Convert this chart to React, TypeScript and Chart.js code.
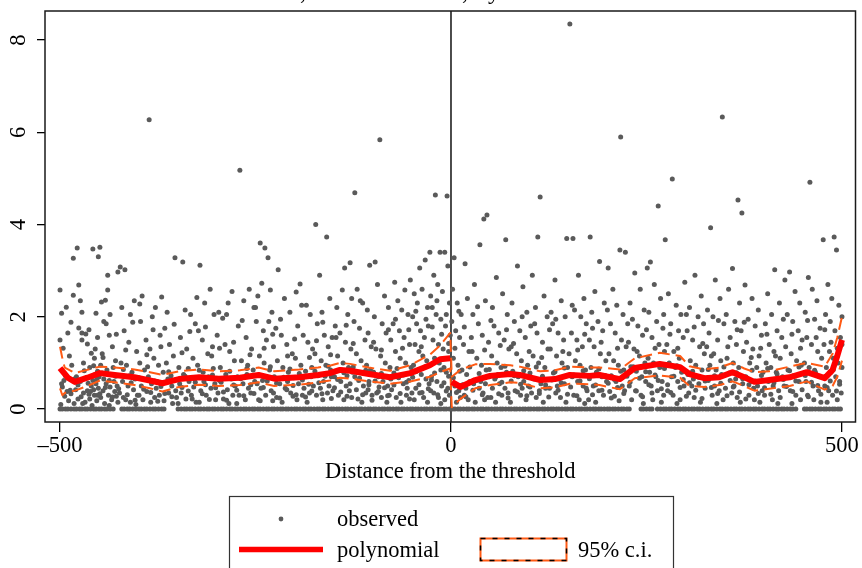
import React, { useEffect, useRef } from "react";
import { Chart, registerables } from "chart.js";

Chart.register(...registerables);

const FONT = '"Liberation Serif", "Times New Roman", serif';

const xTicks = [-500, 0, 500];
const yTicks = [0, 2, 4, 6, 8];
const xTitle = "Distance from the threshold";
const legendLabels = ["observed", "polynomial", "95% c.i."];
const titleParts = ["Mean outcome,", "all bins,", "by distance"];

// observed points above zero: [distance, value]
const observed: [number, number][] = [
  [-500,2.58],[-498,2.08],[-492,2.21],[-483,2.47],[-476,2.69],[-478,3.49],[-483,3.27],[-500,1.5],[-490,1.65],[-476,1.76],[-497,0.48],[-494,0.28],[-489,0.18],[-486,0.33],[-482,0.12],[-480,0.42],[-477,0.22],[-495,0.62],[-485,0.95],[-479,0.7],[-499,0.1],[-491,0.38],[-488,1.15],
  [-472,2.1],[-454,2.08],[-458,3.47],[-449,3.51],[-451,3.3],[-472,1.65],[-467,1.63],[-472,1.5],[-465,1.41],[-460,1.21],[-455,1.3],[-456,1.1],[-470,1.0],[-462,0.9],[-470,0.35],[-465,0.4],[-460,0.5],[-458,0.62],[-455,0.75],[-452,0.82],[-468,0.15],[-462,0.22],[-456,0.3],[-451,0.45],[-474,0.6],[-466,0.68],[-454,0.55],[-459,0.08],[-453,0.18],[-463,0.32],[-457,0.42],[-471,0.12],[-450,0.7],[-452,0.3],
  [-442,2.36],[-439,2.58],[-439,2.9],[-447,2.32],[-426,2.97],[-444,1.9],[-441,1.85],[-437,1.6],[-433,1.35],[-429,1.05],[-446,1.2],[-448,0.95],[-440,0.85],[-435,0.75],[-431,0.6],[-427,0.5],[-445,0.4],[-441,0.55],[-438,0.3],[-434,0.2],[-430,0.38],[-426,0.15],[-448,0.25],[-443,0.12],[-436,0.48],[-432,0.9],[-428,0.28],[-444,0.65],[-437,0.08],
  [-423,3.08],[-417,3.02],[-421,2.2],[-410,2.05],[-405,2.35],[-418,1.7],[-412,1.45],[-402,1.25],[-422,1.0],[-415,0.95],[-408,0.8],[-420,0.6],[-413,0.5],[-406,0.42],[-401,0.3],[-424,0.35],[-416,0.2],[-410,0.15],[-404,0.65],[-419,0.25],[-411,0.72],[-403,0.1],
  [-386,6.27],[-395,2.45],[-382,2.0],[-378,2.2],[-397,1.9],[-390,1.5],[-385,1.3],[-380,1.1],[-398,1.0],[-392,0.85],[-387,0.7],[-383,0.55],[-377,0.45],[-399,0.3],[-394,0.2],[-389,0.38],[-384,0.15],[-379,0.25],[-376,0.6],[-396,0.5],
  [-370,2.43],[-353,3.28],[-372,1.6],[-366,1.75],[-360,1.4],[-355,1.15],[-374,0.95],[-368,0.8],[-362,0.65],[-357,0.5],[-352,0.4],[-373,0.3],[-367,0.18],[-361,0.35],[-356,0.12],[-351,0.25],[-364,1.0],[-358,0.72],
  [-343,3.19],[-340,2.15],[-333,2.05],[-327,1.85],[-346,1.55],[-338,1.3],[-330,1.1],[-348,0.9],[-342,0.75],[-335,0.6],[-329,0.48],[-345,0.35],[-339,0.22],[-332,0.3],[-326,0.15],[-347,0.55],[-336,0.88],[-328,0.65],
  [-321,3.12],[-315,2.3],[-308,2.6],[-303,2.05],[-323,1.7],[-318,1.5],[-311,1.2],[-305,1.35],[-324,0.95],[-317,0.8],[-310,0.7],[-302,0.55],[-320,0.4],[-313,0.3],[-307,0.45],[-301,0.2],[-322,0.15],[-316,0.6],[-304,0.88],
  [-297,2.1],[-292,1.97],[-285,2.3],[-280,2.55],[-299,1.6],[-289,1.4],[-283,1.25],[-277,1.05],[-295,0.9],[-288,0.75],[-281,0.65],[-276,0.5],[-298,0.35],[-291,0.22],[-286,0.42],[-279,0.3],[-294,0.58],[-284,0.12],
  [-270,5.18],[-265,2.35],[-258,2.6],[-252,2.2],[-272,1.8],[-262,1.55],[-255,1.3],[-268,1.05],[-260,0.95],[-253,0.85],[-273,0.7],[-266,0.55],[-259,0.45],[-251,0.6],[-271,0.3],[-263,0.2],[-256,0.35],[-274,0.12],[-261,0.75],
  [-244,3.6],[-238,3.49],[-234,3.28],[-242,2.73],[-231,2.58],[-247,2.45],[-229,2.1],[-249,1.9],[-240,1.7],[-236,1.5],[-233,1.9],[-227,1.35],[-245,1.15],[-239,1.0],[-232,0.85],[-226,0.7],[-248,0.55],[-243,0.45],[-237,0.3],[-230,0.4],[-246,0.2],[-241,0.62],[-228,0.18],
  [-221,3.02],[-213,2.4],[-206,2.1],[-224,1.75],[-217,1.6],[-210,1.4],[-203,1.2],[-222,1.05],[-215,0.9],[-208,0.8],[-201,0.68],[-219,0.55],[-212,0.45],[-205,0.35],[-223,0.25],[-216,0.15],[-209,0.6],[-202,0.28],
  [-193,2.71],[-198,2.54],[-185,2.25],[-180,2.05],[-196,1.8],[-189,1.6],[-183,1.45],[-177,1.3],[-199,1.1],[-192,0.95],[-186,0.82],[-179,0.7],[-195,0.55],[-188,0.45],[-181,0.35],[-176,0.5],[-197,0.2],[-190,0.3],[-184,0.15],[-178,0.9],
  [-173,4.0],[-159,3.73],[-168,2.9],[-155,2.4],[-165,2.1],[-171,1.85],[-162,1.6],[-157,1.35],[-152,1.55],[-174,1.2],[-166,1.05],[-160,0.95],[-154,0.85],[-170,0.72],[-163,0.6],[-156,0.5],[-151,0.4],[-172,0.3],[-164,0.2],[-158,0.35],[-153,0.7],[-167,0.45],
  [-136,3.06],[-129,3.17],[-139,2.58],[-123,4.69],[-146,2.2],[-132,2.05],[-127,2.4],[-148,1.8],[-142,1.65],[-135,1.45],[-128,1.3],[-145,1.15],[-138,1.0],[-131,0.9],[-126,0.8],[-149,0.7],[-141,0.6],[-134,0.5],[-130,0.4],[-144,0.3],[-137,0.2],[-127,0.25],[-140,0.85],[-133,0.72],
  [-104,3.12],[-120,2.6],[-113,2.3],[-107,2.15],[-124,1.9],[-117,1.75],[-110,1.5],[-102,1.35],[-121,1.2],[-115,1.05],[-108,0.95],[-103,0.85],[-123,0.7],[-118,0.62],[-112,0.5],[-106,0.42],[-101,0.3],[-119,0.22],[-114,0.15],[-109,0.35],[-105,0.6],
  [-97,3.19],[-91,5.84],[-94,2.7],[-85,2.45],[-80,2.2],[-98,2.0],[-88,1.85],[-83,1.65],[-77,1.5],[-96,1.3],[-90,1.15],[-84,1.0],[-78,0.9],[-99,0.8],[-93,0.7],[-87,0.6],[-81,0.5],[-76,0.42],[-95,0.35],[-89,0.25],[-82,0.15],[-79,0.3],[-92,0.48],
  [-72,2.75],[-59,2.58],[-52,2.8],[-68,2.35],[-63,2.15],[-55,2.05],[-74,1.85],[-66,1.7],[-60,1.55],[-53,1.4],[-71,1.25],[-65,1.1],[-58,1.0],[-51,0.9],[-73,0.78],[-67,0.68],[-61,0.55],[-56,0.45],[-50,0.35],[-70,0.25],[-64,0.15],[-57,0.3],[-54,0.62],
  [-40,3.06],[-33,3.23],[-27,3.4],[-47,2.5],[-43,2.3],[-37,2.6],[-30,2.2],[-26,2.45],[-49,2.0],[-44,1.85],[-39,1.7],[-34,1.55],[-29,1.8],[-46,1.4],[-41,1.25],[-36,1.15],[-31,1.05],[-48,0.95],[-42,0.85],[-38,0.75],[-32,0.65],[-28,0.55],[-45,0.45],[-40,0.35],[-35,0.25],[-30,0.15],[-26,0.4],[-47,0.2],
  [-20,4.64],[-5,4.62],[-14,3.4],[-8,3.4],[-22,2.9],[-17,2.7],[-11,2.55],[-4,3.1],[-2,2.3],[-24,2.2],[-19,2.05],[-13,1.95],[-7,1.8],[-1,1.6],[-23,1.5],[-16,1.4],[-10,1.3],[-3,1.25],[-21,1.1],[-15,1.0],[-9,0.9],[-6,0.8],[-25,0.7],[-18,0.6],[-12,0.5],[-4,0.45],[-22,0.35],[-16,0.25],[-8,0.2],[-2,0.3],[-13,0.12],
  [4,3.28],[18,3.15],[2,2.6],[8,2.3],[13,2.05],[21,2.4],[1,1.9],[6,1.7],[11,1.55],[16,1.4],[23,1.25],[3,1.1],[9,0.95],[14,0.85],[20,0.75],[24,0.6],[5,0.5],[10,0.4],[17,0.3],[22,0.2],[7,0.15],[12,0.25],[19,0.45],
  [42,4.12],[46,4.21],[37,3.56],[30,2.7],[44,2.35],[28,2.05],[35,1.85],[40,1.6],[48,1.45],[27,1.25],[33,1.1],[39,0.95],[45,0.85],[49,0.7],[29,0.55],[36,0.45],[41,0.35],[47,0.25],[31,0.15],[38,0.6],[43,0.2],
  [70,3.67],[58,2.85],[66,2.5],[53,2.2],[72,2.05],[55,1.8],[61,1.65],[68,1.5],[74,1.3],[52,1.15],[59,1.0],[64,0.9],[71,0.8],[56,0.65],[62,0.55],[69,0.45],[73,0.35],[51,0.25],[57,0.15],[65,0.3],[60,0.75],
  [85,3.1],[92,2.65],[78,2.3],[97,2.1],[81,1.9],[88,1.7],[95,1.55],[77,1.35],[84,1.2],[90,1.05],[98,0.95],[79,0.82],[86,0.7],[93,0.6],[99,0.5],[82,0.4],[89,0.3],[96,0.2],[76,0.15],[91,0.45],
  [114,4.6],[111,3.73],[104,2.9],[119,2.45],[108,2.2],[123,2.0],[102,1.8],[110,1.65],[117,1.45],[124,1.3],[105,1.15],[112,1.0],[120,0.9],[101,0.78],[107,0.65],[115,0.55],[121,0.45],[103,0.35],[109,0.25],[118,0.15],[113,0.4],
  [148,3.7],[133,2.8],[141,2.35],[128,2.1],[146,2.0],[130,1.85],[137,1.65],[144,1.5],[127,1.3],[135,1.15],[142,1.0],[149,0.9],[131,0.78],[138,0.65],[145,0.55],[126,0.45],[134,0.35],[140,0.25],[147,0.15],[136,0.5],
  [152,8.35],[156,3.7],[163,2.9],[170,2.4],[158,2.15],[166,2.0],[173,1.85],[154,1.65],[161,1.5],[168,1.35],[151,1.2],[159,1.05],[165,0.95],[172,0.85],[155,0.7],[162,0.6],[169,0.5],[174,0.4],[157,0.3],[164,0.2],[171,0.12],
  [178,3.73],[190,3.2],[184,2.55],[196,2.3],[180,2.1],[188,1.9],[194,1.7],[177,1.5],[183,1.35],[191,1.2],[198,1.05],[179,0.9],[186,0.8],[193,0.7],[199,0.6],[182,0.5],[189,0.4],[195,0.3],[176,0.2],[185,0.15],
  [201,3.06],[216,3.45],[223,3.4],[217,5.9],[207,2.6],[212,2.25],[220,2.05],[204,1.85],[210,1.65],[218,1.5],[224,1.35],[202,1.2],[208,1.05],[214,0.95],[221,0.85],[205,0.72],[211,0.6],[219,0.5],[203,0.38],[209,0.28],[215,0.18],[222,0.4],
  [235,2.95],[242,2.6],[229,2.3],[247,2.15],[232,1.95],[239,1.8],[245,1.6],[227,1.45],[234,1.3],[241,1.15],[248,1.0],[230,0.92],[237,0.82],[244,0.7],[249,0.6],[228,0.5],[236,0.4],[243,0.3],[231,0.2],[246,0.12],
  [251,3.06],[255,3.19],[265,4.4],[274,3.67],[260,2.7],[268,2.4],[253,2.1],[263,1.9],[271,1.75],[257,1.55],[266,1.4],[273,1.25],[252,1.1],[259,1.0],[267,0.9],[254,0.8],[262,0.7],[270,0.6],[256,0.5],[264,0.4],[272,0.3],[258,0.2],[269,0.15],
  [283,4.99],[299,2.75],[278,2.5],[288,2.25],[294,2.05],[281,1.85],[291,1.7],[297,1.55],[276,1.4],[285,1.25],[292,1.1],[279,1.0],[287,0.9],[295,0.8],[282,0.7],[290,0.6],[298,0.5],[277,0.4],[284,0.3],[293,0.2],[289,0.12],
  [312,2.9],[320,2.45],[305,2.2],[316,2.0],[323,1.85],[302,1.7],[309,1.5],[318,1.35],[324,1.2],[306,1.05],[313,0.95],[321,0.85],[303,0.75],[310,0.65],[317,0.55],[325,0.45],[304,0.35],[311,0.25],[319,0.15],[308,0.5],
  [332,3.93],[347,6.33],[338,2.8],[344,2.4],[328,2.15],[335,2.0],[349,1.85],[330,1.65],[341,1.5],[327,1.35],[336,1.2],[345,1.05],[331,0.95],[339,0.85],[346,0.75],[329,0.62],[337,0.5],[343,0.4],[334,0.3],[348,0.2],[340,0.12],
  [367,4.53],[372,4.25],[360,3.05],[355,2.6],[369,2.3],[352,2.05],[363,1.9],[371,1.7],[357,1.55],[365,1.4],[374,1.25],[353,1.1],[361,1.0],[368,0.9],[356,0.78],[364,0.65],[373,0.55],[351,0.45],[359,0.35],[366,0.25],[370,0.15],[362,0.5],
  [376,2.69],[385,2.4],[393,2.15],[380,1.95],[389,1.8],[397,1.6],[378,1.45],[386,1.3],[394,1.15],[382,1.0],[391,0.9],[399,0.8],[377,0.7],[384,0.6],[392,0.5],[398,0.4],[381,0.3],[388,0.2],[395,0.15],[387,0.45],
  [414,3.02],[405,2.5],[420,2.3],[410,2.05],[402,1.85],[417,1.7],[423,1.55],[407,1.4],[413,1.25],[421,1.1],[403,1.0],[409,0.9],[416,0.8],[424,0.7],[406,0.6],[412,0.5],[419,0.4],[401,0.3],[411,0.2],[418,0.12],
  [427,2.8],[433,2.97],[440,2.55],[446,2.3],[430,2.05],[437,1.9],[444,1.7],[449,1.5],[428,1.35],[435,1.2],[442,1.05],[448,0.95],[431,0.85],[438,0.72],[445,0.6],[426,0.5],[434,0.4],[441,0.3],[447,0.2],[436,0.12],
  [459,4.92],[457,2.85],[462,2.6],[468,2.35],[453,2.1],[465,1.95],[472,1.75],[455,1.55],[461,1.4],[469,1.25],[474,1.1],[452,1.0],[458,0.9],[466,0.8],[471,0.7],[454,0.6],[463,0.5],[470,0.4],[456,0.3],[464,0.2],[473,0.15],
  [476,3.67],[490,3.73],[493,3.45],[482,2.7],[487,2.4],[496,2.25],[479,2.05],[485,1.9],[491,1.7],[498,1.55],[477,1.4],[484,1.25],[489,1.1],[495,1.0],[500,2.0],[480,0.9],[486,0.8],[492,0.7],[497,0.6],[478,0.5],[483,0.4],[488,0.3],[494,0.2],[499,0.35],[481,0.15],[500,0.9],[500,1.4],
];

// more observed points in the dense low band
const observedLow: [number, number][] = [
  [-498,0.55],[-493,0.72],[-487,0.41],[-481,0.66],[-477,0.52],[-473,0.27],[-469,0.83],[-464,0.56],[-461,0.38],[-457,0.94],[-453,0.64],[-449,0.33],[-446,0.78],[-442,0.47],[-437,0.62],[-433,0.26],[-429,0.71],[-425,0.44],[-419,0.86],[-414,0.31],[-409,0.57],[-404,0.19],[-399,0.68],[-393,0.43],[-388,0.92],[-384,0.36],[-379,0.61],[-375,0.17],[-371,0.49],[-366,0.34],[-361,0.81],[-357,0.27],[-353,0.63],[-349,0.12],[-344,0.47],[-340,0.71],[-336,0.39],[-331,0.22],[-327,0.58],[-322,0.84],[-318,0.33],[-314,0.53],[-309,0.21],[-305,0.74],[-301,0.46],[-296,0.62],[-291,0.37],[-287,0.19],[-283,0.82],[-278,0.52],[-274,0.41],[-269,0.66],[-265,0.29],[-261,0.88],[-256,0.53],[-252,0.34],[-248,0.73],[-244,0.18],[-240,0.47],[-235,0.61],[-231,0.92],[-227,0.35],[-223,0.56],[-219,0.24],[-214,0.69],[-210,0.42],[-206,0.87],[-202,0.51],[-198,0.31],[-194,0.77],[-190,0.63],[-186,0.26],[-182,0.54],[-178,0.39],[-174,0.82],[-169,0.57],[-165,0.33],[-161,0.71],[-157,0.93],[-153,0.23],[-149,0.46],[-145,0.64],[-141,0.37],[-137,0.79],[-133,0.28],[-129,0.55],[-125,0.91],[-121,0.42],[-117,0.67],[-113,0.31],[-109,0.84],[-105,0.53],[-101,0.19],[-97,0.61],[-93,0.38],[-89,0.77],[-85,0.46],[-81,0.29],[-77,0.65],[-73,0.52],[-69,0.88],[-65,0.34],[-61,0.74],[-57,0.58],[-53,0.22],[-49,0.69],[-45,0.81],[-41,0.53],[-37,0.36],[-33,0.92],[-29,0.44],[-25,0.63],[-21,0.78],[-17,0.31],[-13,0.85],[-9,0.57],[-6,0.39],[-3,0.71],
  [3,0.68],[7,0.36],[11,0.82],[15,0.53],[19,0.27],[24,0.91],[28,0.41],[32,0.62],[36,0.77],[40,0.31],[44,0.55],[49,0.86],[53,0.45],[57,0.69],[61,0.33],[65,0.58],[69,0.93],[73,0.24],[77,0.61],[81,0.72],[85,0.37],[89,0.54],[93,0.83],[97,0.29],[101,0.48],[105,0.66],[109,0.91],[113,0.34],[117,0.71],[121,0.52],[125,0.26],[129,0.63],[133,0.81],[137,0.41],[141,0.57],[145,0.89],[149,0.32],[153,0.48],[157,0.74],[161,0.29],[165,0.61],[169,0.83],[173,0.45],[177,0.66],[181,0.31],[185,0.52],[189,0.87],[193,0.41],[197,0.73],[201,0.56],[205,0.24],[209,0.64],[213,0.47],[217,0.82],[221,0.34],[225,0.71],[229,0.58],[233,0.92],[237,0.39],[241,0.67],[245,0.27],[249,0.81],[253,0.53],[257,0.35],[261,0.74],[265,0.62],[269,0.44],[273,0.88],[277,0.53],[281,0.36],[285,0.71],[289,0.94],[293,0.47],[297,0.64],[301,0.28],[305,0.57],[309,0.82],[313,0.41],[317,0.69],[321,0.23],[325,0.61],[329,0.86],[333,0.47],[337,0.72],[341,0.34],[345,0.56],[349,0.91],[353,0.29],[357,0.62],[361,0.48],[365,0.79],[369,0.37],[373,0.66],[377,0.22],[381,0.53],[385,0.84],[389,0.61],[393,0.34],[397,0.73],[401,0.46],[405,0.88],[409,0.32],[413,0.57],[417,0.76],[421,0.25],[425,0.64],[429,0.49],[433,0.83],[437,0.38],[441,0.61],[445,0.91],[449,0.42],[453,0.73],[457,0.27],[461,0.58],[465,0.84],[469,0.51],[473,0.32],[477,0.69],[481,0.47],[485,0.61],[489,0.86],[493,0.39],[497,0.54],
];

// more observed points in the middle band
const observedMid: [number, number][] = [
  [-496,1.32],[-486,1.88],[-474,2.35],[-463,1.72],[-452,1.55],[-445,1.12],[-436,2.05],[-428,1.62],[-416,1.28],[-407,1.88],[-398,2.28],[-389,1.18],[-381,1.72],[-371,1.35],[-363,2.1],[-354,1.84],[-344,1.22],[-334,1.68],[-325,2.42],[-314,1.78],[-306,1.15],[-296,1.32],[-287,2.05],[-278,1.45],[-267,1.92],[-257,1.18],[-250,2.2],[-239,1.32],[-228,1.62],[-218,1.95],[-209,1.15],[-200,1.52],[-191,2.25],[-181,1.12],[-172,1.48],[-164,1.88],[-154,1.18],[-147,1.55],[-134,1.82],[-125,1.42],[-116,2.35],[-106,1.65],[-99,1.45],[-89,1.28],[-80,1.72],[-71,1.95],[-62,1.32],[-54,1.72],[-45,2.12],[-38,1.35],[-32,1.95],[-24,1.78],[-18,2.35],[-12,1.62],[-6,2.05],[-3,1.42],
  [5,1.32],[10,2.12],[17,1.78],[26,1.55],[34,2.22],[43,1.28],[51,1.92],[63,1.38],[71,1.72],[80,1.42],[91,2.0],[100,1.25],[107,1.85],[116,1.12],[126,1.72],[134,1.95],[143,1.25],[155,2.25],[162,1.28],[171,1.62],[181,1.75],[192,1.45],[200,2.15],[213,1.32],[226,1.85],[238,1.25],[250,1.72],[261,1.32],[272,2.05],[280,1.62],[290,1.32],[301,2.05],[311,1.78],[322,1.42],[333,1.15],[342,1.92],[354,1.35],[366,1.72],[375,1.88],[384,1.12],[396,1.32],[404,1.62],[415,1.15],[425,1.95],[436,1.62],[447,1.32],[456,1.92],[467,1.55],[478,1.72],[486,1.45],[494,1.32],
];

// observed points lying at zero: distance only
const zeroRowX: number[] = [
  -500,-497,-493,-490,-486,-482,-479,-475,-472,-468,-465,-461,-457,-454,-450,-447,-443,-440,-436,-432,-421,-418,-414,-411,-407,-403,-399,-396,-392,-389,-385,-381,-378,-374,-370,-367,-349,-345,-341,-338,-334,-331,-327,-323,-320,-316,-312,-309,-305,-302,-298,-294,-291,-287,-283,-280,-276,-273,-269,-265,-262,-258,-254,-251,-247,-244,-240,-236,-233,-229,-226,-222,-218,-215,-211,-208,-204,-200,-197,-193,-189,-186,-182,-179,-175,-171,-168,-164,-161,-157,-153,-150,-146,-143,-139,-135,-132,-128,-124,-121,-117,-114,-110,-106,-103,-99,-96,-92,-88,-85,-81,-78,-74,-70,-67,-63,-60,-56,-52,-49,-45,-42,-38,-34,-31,-27,-24,-20,-16,-13,-9,-6,-2,
  2,5,9,12,16,20,23,27,30,34,38,41,45,48,52,56,59,63,66,70,74,77,81,84,88,92,95,99,102,106,110,113,117,120,124,128,131,135,138,142,146,149,153,156,160,164,167,171,174,178,182,185,189,192,196,200,203,207,210,214,218,221,225,228,243,246,250,254,257,264,268,272,275,279,282,286,290,293,297,300,304,308,311,315,318,322,326,329,333,336,340,344,347,351,354,358,362,365,369,372,376,380,383,387,390,394,398,401,405,408,412,416,419,423,426,430,434,437,441,452,455,459,462,466,470,473,477,480,484,488,491,495,498,
];

// local polynomial fit, left and right of the threshold
const polyLeftX = [-500,-490,-481,-465,-449,-430,-405,-385,-369,-348,-322,-297,-270,-246,-226,-194,-170,-155,-142,-129,-105,-78,-52,-27,-14,-1];
const polyLeftY = [0.89,0.68,0.59,0.68,0.78,0.74,0.69,0.62,0.56,0.65,0.69,0.66,0.68,0.74,0.66,0.69,0.74,0.78,0.85,0.83,0.76,0.69,0.78,0.95,1.08,1.1];
const polyRightX = [1,12,31,50,76,88,114,133,152,177,190,216,235,267,293,305,324,343,360,375,388,407,433,455,478,488,494,500];
const polyRightY = [0.59,0.48,0.63,0.72,0.76,0.74,0.63,0.65,0.74,0.72,0.74,0.65,0.89,0.98,0.91,0.76,0.67,0.69,0.8,0.69,0.59,0.63,0.69,0.8,0.67,0.85,1.15,1.5];

// 95% confidence band
const ciLeftX = [-500,-497,-494,-481,-465,-449,-430,-405,-385,-369,-348,-322,-297,-270,-246,-226,-194,-170,-155,-142,-129,-105,-78,-52,-27,-14,-1];
const ciLeftUpper = [1.35,1.1,0.9,0.78,0.85,0.92,0.9,0.86,0.8,0.74,0.82,0.86,0.82,0.84,0.9,0.82,0.86,0.9,0.94,1.0,0.98,0.9,0.83,0.95,1.18,1.38,1.65];
const ciLeftLower = [0.45,0.3,0.35,0.4,0.5,0.62,0.58,0.52,0.45,0.38,0.48,0.53,0.5,0.52,0.58,0.5,0.53,0.58,0.62,0.68,0.66,0.6,0.55,0.6,0.7,0.8,0.88];
const ciRightX = [1,12,31,50,76,88,114,133,152,177,190,216,235,267,293,305,324,343,360,375,388,407,433,455,478,488,494,500];
const ciRightUpper = [0.7,0.85,0.97,0.98,0.95,0.92,0.82,0.84,0.92,0.9,0.9,0.86,1.1,1.22,1.15,0.93,0.86,0.9,1.0,0.88,0.8,0.82,0.92,1.0,0.92,1.2,1.55,2.0];
const ciRightLower = [0.04,0.22,0.45,0.52,0.58,0.57,0.45,0.47,0.55,0.54,0.52,0.43,0.67,0.73,0.68,0.5,0.48,0.52,0.6,0.5,0.4,0.44,0.5,0.6,0.42,0.5,0.7,1.05];

const GRAY = "#5a5a5a";
const RED = "#ff0000";
const ORANGE = "#ff5a14";

const decorPlugin = {
  id: "decor",
  beforeDatasetsDraw(chart: any) {
    const { ctx, chartArea: a, scales } = chart;
    const x0 = scales.x.getPixelForValue(0);
    ctx.save();
    ctx.strokeStyle = "#000";
    ctx.lineWidth = 1.4;
    ctx.beginPath();
    ctx.moveTo(x0, a.top);
    ctx.lineTo(x0, a.bottom);
    ctx.stroke();
    ctx.restore();
  },
  afterDraw(chart: any) {
    const { ctx, chartArea: a, scales } = chart;
    ctx.save();
    ctx.strokeStyle = "#1a1a1a";
    ctx.lineWidth = 1.5;
    ctx.strokeRect(a.left, a.top, a.right - a.left, a.bottom - a.top);

    ctx.fillStyle = "#000";
    ctx.font = `22.5px ${FONT}`;
    ctx.textAlign = "center";
    ctx.textBaseline = "alphabetic";
    xTicks.forEach((v) => {
      const lbl = v < 0 ? "\u2013" + Math.abs(v) : String(v);
      ctx.fillText(lbl, scales.x.getPixelForValue(v), 452);
    });
    yTicks.forEach((v) => {
      ctx.save();
      ctx.translate(25, scales.y.getPixelForValue(v));
      ctx.rotate(-Math.PI / 2);
      ctx.fillText(String(v), 0, 0);
      ctx.restore();
    });
    ctx.fillText(xTitle, (a.left + a.right) / 2, 478);

    ctx.font = `24px ${FONT}`;
    ctx.textAlign = "right";
    ctx.fillText(titleParts[0], 306, -1);
    ctx.fillText(titleParts[1], 468, -1);
    ctx.textAlign = "left";
    ctx.fillText(titleParts[2], 476, -1);

    ctx.font = `22.5px ${FONT}`;
    ctx.strokeStyle = "#333";
    ctx.lineWidth = 1.2;
    ctx.strokeRect(229.5, 496.5, 444, 120);
    ctx.fillStyle = GRAY;
    ctx.beginPath();
    ctx.arc(281, 519, 2.4, 0, Math.PI * 2);
    ctx.fill();
    ctx.fillStyle = "#000";
    ctx.textAlign = "left";
    ctx.fillText(legendLabels[0], 337, 526);
    ctx.strokeStyle = RED;
    ctx.lineWidth = 5.5;
    ctx.beginPath();
    ctx.moveTo(239, 549.5);
    ctx.lineTo(323, 549.5);
    ctx.stroke();
    ctx.fillText(legendLabels[1], 337, 557);
    ctx.fillStyle = "#fff";
    ctx.fillRect(480.5, 538.5, 86, 22);
    ctx.strokeStyle = ORANGE;
    ctx.lineWidth = 2;
    ctx.strokeRect(480.5, 538.5, 86, 22);
    ctx.strokeStyle = "#000";
    ctx.lineWidth = 1.5;
    ctx.setLineDash([5, 7]);
    ctx.strokeRect(480.5, 538.5, 86, 22);
    ctx.setLineDash([]);
    ctx.fillStyle = "#000";
    ctx.fillText(legendLabels[2], 578, 557);
    ctx.restore();
  },
};

export default function App() {
  const ref = useRef<HTMLCanvasElement | null>(null);

  useEffect(() => {
    document.body.style.margin = "0";
    const canvas = ref.current;
    if (!canvas) return;

    const obsData = observed
      .concat(observedLow, observedMid)
      .map(([x, y]) => ({ x, y }))
      .concat(zeroRowX.map((x) => ({ x, y: 0 })));
    const polyL = polyLeftX.map((x, i) => ({ x, y: polyLeftY[i] }));
    const polyR = polyRightX.map((x, i) => ({ x, y: polyRightY[i] }));
    const ciX = ciLeftX.concat(ciRightX);
    const ciUp = ciLeftUpper.concat(ciRightUpper);
    const ciLo = ciLeftLower.concat(ciRightLower);
    const upData = ciX.map((x, i) => ({ x, y: ciUp[i] }));
    const loData = ciX.map((x, i) => ({ x, y: ciLo[i] }));

    const lineDs = (data: any[], color: string, width: number, dash: number[], order: number) => ({
      type: "line" as const,
      data,
      borderColor: color,
      borderWidth: width,
      borderDash: dash,
      pointRadius: 0,
      showLine: true,
      fill: false,
      tension: 0,
      order,
      borderJoinStyle: "round" as const,
      borderCapStyle: "butt" as const,
    });

    const chart = new Chart(canvas, {
      type: "scatter",
      data: {
        datasets: [
          lineDs(polyL, RED, 6, [], 0),
          lineDs(polyR, RED, 6, [], 0),
          lineDs(upData, ORANGE, 2, [12, 6], 1),
          lineDs(loData, ORANGE, 2, [12, 6], 1),
          {
            type: "scatter" as const,
            data: obsData,
            pointRadius: 2.5,
            pointBackgroundColor: GRAY,
            pointBorderWidth: 0,
            order: 2,
          } as any,
        ],
      },
      options: {
        animation: false,
        responsive: false,
        devicePixelRatio: 1,
        events: [],
        layout: { padding: { top: 11, right: 6.5, left: 0, bottom: 0 } },
        plugins: { legend: { display: false }, title: { display: false }, tooltip: { enabled: false } },
        scales: {
          x: {
            type: "linear",
            min: -519.2,
            max: 517.3,
            afterBuildTicks: (s: any) => {
              s.ticks = xTicks.map((v) => ({ value: v }));
            },
            afterFit: (s: any) => {
              s.height = 146;
            },
            ticks: { display: false },
            border: { display: false },
            grid: { drawOnChartArea: false, drawTicks: true, tickLength: 10, color: "#000", lineWidth: 1.3 },
          },
          y: {
            type: "linear",
            min: -0.28,
            max: 8.63,
            afterBuildTicks: (s: any) => {
              s.ticks = yTicks.map((v) => ({ value: v }));
            },
            afterFit: (s: any) => {
              s.width = 45;
            },
            ticks: { display: false },
            border: { display: false },
            grid: { drawOnChartArea: false, drawTicks: true, tickLength: 8, color: "#000", lineWidth: 1.3 },
          },
        },
      } as any,
      plugins: [decorPlugin],
    });
    return () => chart.destroy();
  }, []);

  return (
    <div style={{ width: 862, height: 568, position: "relative", background: "#fff" }}>
      <canvas ref={ref} width={862} height={568} style={{ width: 862, height: 568, display: "block" }} />
    </div>
  );
}
